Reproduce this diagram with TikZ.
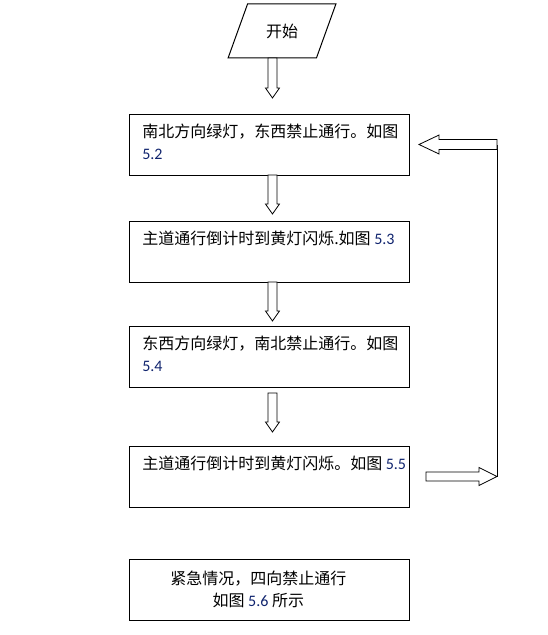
\documentclass[tikz,border=0pt]{standalone}
\usepackage{fontspec}
\setmainfont{Noto Sans CJK SC}
\newfontfamily\numfont{Carlito}
\usepackage{tikz}
\usetikzlibrary{shapes,arrows}
\usetikzlibrary{positioning,calc}
\definecolor{numblue}{RGB}{16,36,110}
\newcommand{\fignum}[1]{{\numfont\textcolor{numblue}{#1}}}
\newcommand{\blockarrow}[5]{%
  \coordinate (ah) at ($(#2)!#5!(#1)$);
  \draw[hollow] ($(#1)!#3!90:(#2)$) -- ($(ah)!#3!90:(#2)$) -- ($(ah)!#4!90:(#2)$) -- (#2)
    -- ($(ah)!#4!-90:(#2)$) -- ($(ah)!#3!-90:(#2)$) -- ($(#1)!#3!-90:(#2)$) -- cycle;}
\tikzset{
  box/.style={draw, line width=0.75pt, outer sep=0pt, minimum width=210pt, minimum height=45.75pt},
  txt/.style={align=left, inner sep=0pt, font=\fontsize{12pt}{16.5pt}\selectfont},
  hollow/.style={line width=0.6pt, line join=miter, fill=white}
}
\begin{document}
\begin{tikzpicture}[x=0.75pt, y=-0.75pt]
\useasboundingbox (0,0) rectangle (547,635);
\node[draw, line width=0.75pt, trapezium, trapezium stretches=true, trapezium left angle=64, trapezium right angle=116,
  minimum width=81pt, minimum height=40.5pt, outer sep=0pt, font=\fontsize{12pt}{14pt}\selectfont] (start) at (282,31) {开始};
\node[box] (b1) at (269,144.5) {};
\node[box] (b2) [below=34.5pt of b1] {};
\node[box] (b3) [below=33pt of b2] {};
\node[box] (b4) [below=44.25pt of b3] {};
\node[box] (b5) [below=39pt of b4] {};
\node[txt, anchor=north west] (t1) at ([xshift=9.75pt,yshift=-7.5pt]b1.north west) {南北方向绿灯，东西禁止通行。如图\\\fignum{5.2}};
\node[txt, anchor=north west] (t2) at ([xshift=9.75pt,yshift=-7.5pt]b2.north west) {主道通行倒计时到黄灯闪烁.如图 \fignum{5.3}};
\node[txt, anchor=north west] (t3) at ([xshift=9.75pt,yshift=-7.5pt]b3.north west) {东西方向绿灯，南北禁止通行。如图\\\fignum{5.4}};
\node[txt, anchor=north west] (t4) at ([xshift=9.75pt,yshift=-7.5pt]b4.north west) {主道通行倒计时到黄灯闪烁。如图 \fignum{5.5}};
\node[txt, align=center] (t5) at ([xshift=-8pt]b5.center) {紧急情况，四向禁止通行\\如图 \fignum{5.6} 所示};
\coordinate (e0) at ([xshift=2.6pt,yshift=12pt]b1.north);
\coordinate (s0) at (e0 |- start.south);
\coordinate (s1) at ([xshift=2.6pt]b1.south);
\coordinate (e1) at ([xshift=2.6pt,yshift=5.25pt]b2.north);
\coordinate (s2) at ([xshift=2.6pt]b2.south);
\coordinate (e2) at ([xshift=2.6pt,yshift=3.75pt]b3.north);
\coordinate (s3) at ([xshift=2.6pt,yshift=-4.5pt]b3.south);
\coordinate (e3) at ([xshift=2.6pt,yshift=10.5pt]b4.north);
\coordinate (loopB) at ([xshift=66pt]b4.east);
\coordinate (loopT) at ([xshift=66pt]b1.east);
\coordinate (outR) at ([xshift=12.75pt]b4.east);
\coordinate (inL) at ([xshift=7.5pt]b1.east);
\blockarrow{s0}{e0}{3.4pt}{5.25pt}{7.5pt}
\blockarrow{s1}{e1}{3.4pt}{5.25pt}{7.5pt}
\blockarrow{s2}{e2}{3.4pt}{5.25pt}{7.5pt}
\blockarrow{s3}{e3}{3.4pt}{5.25pt}{7.5pt}
\draw[line width=0.75pt] (loopB) -- (loopT);
\blockarrow{outR}{loopB}{3.4pt}{6.75pt}{13.5pt}
\blockarrow{loopT}{inL}{3.75pt}{7.1pt}{15pt}
\end{tikzpicture}
\end{document}
